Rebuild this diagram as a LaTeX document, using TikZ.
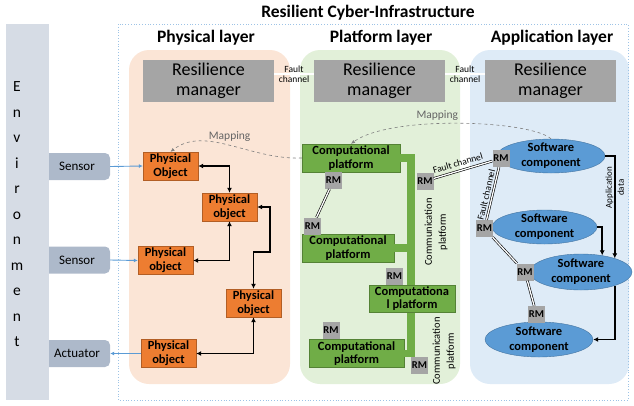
\documentclass[tikz,border=0pt]{standalone}
\usepackage{fontspec}
\setmainfont{Carlito}
\usetikzlibrary{arrows.meta,shapes.geometric}
\definecolor{envbar}{HTML}{D6DCE5}
\definecolor{sidebox}{HTML}{ADB9CA}
\definecolor{physbg}{HTML}{FBE5D6}
\definecolor{platbg}{HTML}{E2F0D9}
\definecolor{appbg}{HTML}{DEEBF7}
\definecolor{mgrgrey}{HTML}{A5A5A5}
\definecolor{physorange}{HTML}{ED7D31}
\definecolor{compgreen}{HTML}{70AD47}
\definecolor{softblue}{HTML}{5B9BD5}
\definecolor{dotline}{HTML}{9DC3E6}
\definecolor{mapgrey}{HTML}{7F7F7F}

\begin{document}
\begin{tikzpicture}[x=1pt, y=-1pt,
	mgr/.style = {fill=mgrgrey, minimum width=131pt, minimum height=42pt, inner sep=0pt, align=center, font=\fontsize{18}{20}\selectfont},
	phys/.style = {draw=physorange!75!black, fill=physorange, minimum width=55pt, minimum height=28pt, inner sep=0pt, align=center, font=\bfseries\fontsize{12.5}{14}\selectfont},
	comp/.style = {draw=compgreen!75!black, fill=compgreen, minimum height=28pt, inner sep=0pt, align=center, font=\bfseries\fontsize{12.5}{13.5}\selectfont},
	soft/.style = {ellipse, draw=softblue!75!black, fill=softblue, inner sep=0pt, label={[align=center, font=\bfseries\fontsize{12.5}{15}\selectfont]center:Software\\component}},
	rm/.style = {fill=mgrgrey, minimum size=17pt, inner sep=0pt, font=\bfseries\fontsize{10.5}{12}\selectfont},
	side/.style = {fill=sidebox, rounded corners=5pt, minimum width=66pt, minimum height=27pt, inner sep=0pt, font=\fontsize{13}{15}\selectfont},
	title/.style = {font=\bfseries\fontsize{17.5}{20}\selectfont},
	small/.style = {font=\fontsize{9.5}{11}\selectfont, inner sep=0.5pt},
	fault/.style = {double, double distance=1.3pt, line width=0.6pt},
	link/.style = {line width=1.7pt, {Latex[length=5pt,width=5pt]}-{Latex[length=5pt,width=5pt]}},
	data/.style = {line width=1.7pt, -{Latex[length=5pt,width=5pt]}},
	feed/.style = {softblue, line width=0.9pt, -{Latex[length=4pt,width=4pt]}},
	map/.style = {mapgrey, dashed, line width=0.6pt, -{Latex[length=4pt,width=3.5pt]}},
	bus/.style = {compgreen, line width=7.5pt}]
	\useasboundingbox (0,0) rectangle (634,405);
	
	%Layer panels
	\fill[physbg, rounded corners=20pt] (129,50) rectangle (290,384);
	\fill[platbg, rounded corners=20pt] (300,50) rectangle (460,384);
	\fill[appbg, rounded corners=20pt] (470,50) rectangle (629,384);
	\draw[dotline, dotted, line width=0.8pt] (118,24) rectangle (628,400);
	\node[title] (t0) at (368,13) {Resilient Cyber-Infrastructure};
	\node[title] (t1) at (206,38) {Physical layer};
	\node[title] (t2) at (381,38) {Platform layer};
	\node[title] (t3) at (552,38) {Application layer};
	
	%Environment with sensors and actuator
	\node[side] (3) at (77,166.5) {Sensor};
	\node[side] (4) at (77,260) {Sensor};
	\node[side] (5) at (77,353.5) {Actuator};
	\node[fill=envbar, minimum width=43pt, minimum height=376pt, inner sep=0pt] (1) at (27.5,212) {};
	\node[align=center, font=\fontsize{15.5}{25.5}\selectfont] (2) at (17,214.5) {E\\n\\v\\i\\r\\o\\n\\m\\e\\n\\t};
	
	%Resilience managers
	\node[mgr] (6) at (208.5,81) {Resilience\\manager};
	\node[mgr] (7) at (379.5,81) {Resilience\\manager};
	\node[mgr] (8) at (550.5,81) {Resilience\\manager};
	\draw[fault] ([yshift=7pt]6.east) -- ([yshift=7pt]7.west) node[pos=0.5, above=1pt, small] {Fault} node[pos=0.5, below=1pt, small] {channel}; %Manager 1 - Manager 2
	\draw[fault] ([yshift=7pt]7.east) -- ([yshift=7pt]8.west) node[pos=0.5, above=1pt, small] {Fault} node[pos=0.5, below=1pt, small] {channel}; %Manager 2 - Manager 3
	
	%Physical layer
	\node[phys] (9) at (170.5,166) {Physical\\Object};
	\node[phys] (10) at (229.5,207) {Physical\\object};
	\node[phys] (11) at (165.5,260.5) {Physical\\object};
	\node[phys] (12) at (253.5,303) {Physical\\object};
	\node[phys] (13) at (168.5,353.5) {Physical\\object};
	\draw[link] (9.east) -| (10.north);
	\draw[link] (11.east) -| (10.south);
	\draw[link] (10.east) -| (270,252) -| (12.north);
	\draw[link] (13.east) -| (12.south);
	\draw[feed] (3.east) -- (9.west); %Sensor -> object
	\draw[feed] (4.east) -- (11.west); %Sensor -> object
	\draw[feed] (13.west) -- (5.east); %object -> Actuator
	
	%Platform layer
	\coordinate (19) at (411,353.5);
	\node[comp, minimum width=98pt] (14) at (351,158) {Computational\\platform};
	\node[comp, minimum width=92pt] (15) at (348,248) {Computational\\platform};
	\node[comp, minimum width=95pt] (17) at (356.5,353.5) {Computational\\platform};
	\draw[bus] (14.east) -| (19) -- (17.east); %Communication platform
	\draw[bus] (15.east) -- (15.east -| 19);
	\node[comp, minimum width=86pt, minimum height=27pt] (16) at (412,298.5) {Computationa\\l platform};
	\node[rm] (20) at (333.5,180.5) {RM};
	\node[rm] (21) at (312.5,226) {RM};
	\node[rm] (22) at (425,181) {RM};
	\node[rm] (23) at (394.5,276) {RM};
	\node[rm] (24) at (331,330.5) {RM};
	\node[rm] (25) at (419.5,365.5) {RM};
	\draw[fault] (20) -- (21);
	\node[rotate=90, align=center, font=\fontsize{10.5}{14}\selectfont] (26) at (436,232) {Communication\\platform};
	\node[rotate=90, align=center, font=\fontsize{10.5}{14}\selectfont] (27) at (444,351) {Communication\\platform};
	
	%Application layer
	\node[soft, minimum width=108pt, minimum height=34pt] (28) at (551,156) {};
	\node[soft, minimum width=105pt, minimum height=34pt] (29) at (544.5,227) {};
	\node[soft, minimum width=102pt, minimum height=36pt] (30) at (581,272) {};
	\node[soft, minimum width=108pt, minimum height=35pt] (31) at (539,339.5) {};
	\node[rm] (32) at (501,158.5) {RM};
	\node[rm] (33) at (484.5,228.5) {RM};
	\node[rm] (34) at (525,272) {RM};
	\node[rm] (35) at (536.5,314.5) {RM};
	\draw[fault] (22) -- (32) node[pos=0.45, sloped, above=3.5pt, small] {Fault channel};
	\draw[fault] (33) -- (32) node[pos=0.45, sloped, above=2pt, small] {Fault channel};
	\draw[fault] (33) -- (34);
	\draw[fault] (34) -- (35);
	\draw[data] (28.east) -| (30.22) node[pos=0.655, rotate=90, align=center, font=\fontsize{9}{12}\selectfont] {Application\\data};
	\draw[data] (29.east) -| (30.38);
	\draw[data] (30.-22) |- (31.east);
	
	%Mapping between layers
	\draw[map] (14.west) .. controls (250,160) and (205,125) .. (9.north) node[pos=0.5, above, font=\fontsize{11.5}{13}\selectfont, text=mapgrey!80!black] {Mapping};
	\draw[map] (28.north) .. controls (530,120) and (390,115) .. (14.north) node[pos=0.58, above, font=\fontsize{11.5}{13}\selectfont, text=mapgrey!80!black] {Mapping};
\end{tikzpicture}
\end{document}
